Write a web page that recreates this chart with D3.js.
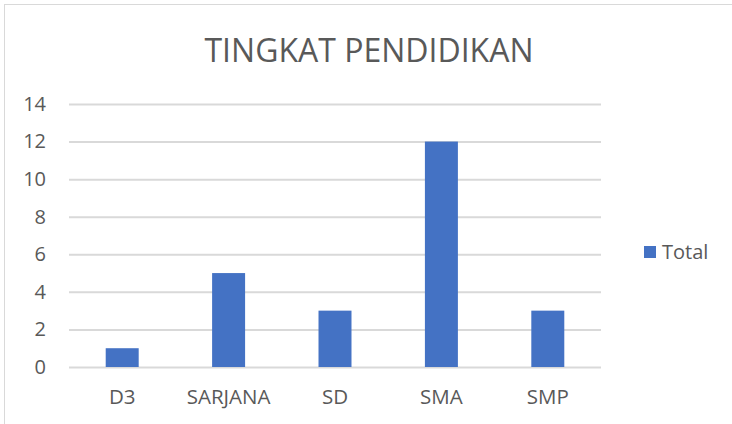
<!DOCTYPE html>
<html>
<head>
<meta charset="utf-8">
<script src="https://cdn.jsdelivr.net/npm/d3@7"></script>
<style>
  body { margin: 0; background: #fff; }
  text { font-family: "Open Sans", sans-serif; fill: #595959; }
</style>
</head>
<body>
<svg width="732" height="424"></svg>
<script>
const categories = ['D3', 'SARJANA', 'SD', 'SMA', 'SMP'];
const totals = [1, 5, 3, 12, 3];
const yTicks = [0, 2, 4, 6, 8, 10, 12, 14];
const seriesName = 'Total';
const chartTitle = 'TINGKAT PENDIDIKAN';

let svg = d3.select('svg');
let side = {width: +svg.attr('width'), height: +svg.attr('height')};
let plot = {left: 69, right: 601, top: 104, bottom: 367};

// chart frame (right/bottom edges run off the picture)
svg.append('rect')
    .attr('x', 4.5).attr('y', 4.5)
    .attr('width', side.width + 10).attr('height', side.height + 10)
    .attr('fill', 'none')
    .attr('stroke', '#d9d9d9');

svg.append('text')
    .attr('x', 369).attr('y', 62)
    .attr('text-anchor', 'middle')
    .style('font-size', '32px')
    .text(chartTitle);

let x = d3.scaleBand()
    .domain(categories)
    .range([plot.left, plot.right])
    .paddingInner(0.69)
    .paddingOuter(0.345);

let y = d3.scaleLinear()
    .domain([0, 14])
    .range([plot.bottom, plot.top]);

let yAxis = svg.append('g')
    .attr('transform', `translate(${plot.left},0)`)
    .call(d3.axisLeft(y).tickValues(yTicks).tickSize(-(plot.right - plot.left)).tickPadding(23));
yAxis.select('.domain').remove();
yAxis.selectAll('line').attr('stroke', '#d9d9d9').attr('stroke-width', 2);
yAxis.selectAll('text')
    .attr('fill', '#595959')
    .style('font-family', '"Open Sans", sans-serif')
    .style('font-size', '20px');

svg.append('g')
    .selectAll('rect')
    .data(categories)
    .enter()
    .append('rect')
    .attr('x', d => x(d))
    .attr('width', x.bandwidth())
    .attr('y', (d, i) => y(totals[i]))
    .attr('height', (d, i) => y(0) - y(totals[i]))
    .attr('fill', '#4472c4');

let xAxis = svg.append('g')
    .attr('transform', `translate(0,${plot.bottom})`)
    .call(d3.axisBottom(x).tickSize(0).tickPadding(22));
xAxis.select('.domain').remove();
xAxis.selectAll('text')
    .attr('fill', '#595959')
    .style('font-family', '"Open Sans", sans-serif')
    .style('font-size', '20.5px');

let legend = svg.append('g').attr('transform', 'translate(644,246)');
legend.append('rect').attr('width', 12).attr('height', 12).attr('fill', '#4472c4');
legend.append('text')
    .attr('x', 18).attr('y', 6).attr('dy', '0.35em')
    .style('font-size', '20px')
    .text(seriesName);
</script>
</body>
</html>
